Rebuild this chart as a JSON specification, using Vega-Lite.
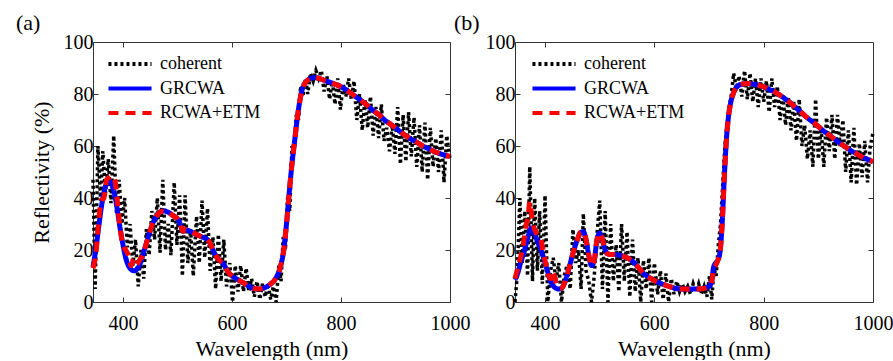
{
"$schema": "https://vega.github.io/schema/vega-lite/v6.json",
"padding": {"left": 15, "top": 11, "right": 0, "bottom": 0},
"bounds": "flush",
"spacing": 65,
"config": {
  "font": "Liberation Serif, Tinos, Times New Roman, DejaVu Serif, serif",
  "view": {"stroke": "#333", "strokeWidth": 1},
  "axis": {"domain": false, "grid": false, "ticks": true, "tickSize": -5, "tickColor": "#333", "labelFont": "Liberation Serif, Tinos, Times New Roman, DejaVu Serif, serif", "labelFontSize": 20, "labelColor": "#000", "labelFlush": false, "labelOverlap": false, "format": "d", "titleFont": "Liberation Serif, Tinos, Times New Roman, DejaVu Serif, serif", "titleFontSize": 22, "titleFontWeight": "normal", "titleColor": "#000"},
  "title": {"font": "Liberation Serif, Tinos, Times New Roman, DejaVu Serif, serif", "fontSize": 22, "fontWeight": "normal", "anchor": "start", "frame": "group", "color": "#000"},
  "legend": {"orient": "none", "title": null, "labelFont": "Liberation Serif, Tinos, Times New Roman, DejaVu Serif, serif", "labelFontSize": 18, "labelColor": "#000", "symbolType": "M-4,0H4", "symbolSize": 116, "symbolStrokeWidth": 4, "labelOffset": 21, "rowPadding": 6.5}
},
"datasets": {
"a": [
{"method":"coherent","wl":345,"refl":47},{"method":"coherent","wl":349,"refl":5},{"method":"coherent","wl":354,"refl":60},{"method":"coherent","wl":359,"refl":39},{"method":"coherent","wl":363,"refl":58},{"method":"coherent","wl":368,"refl":42},{"method":"coherent","wl":373,"refl":55},{"method":"coherent","wl":378,"refl":38},{"method":"coherent","wl":383,"refl":64},{"method":"coherent","wl":388,"refl":34},{"method":"coherent","wl":393,"refl":47},{"method":"coherent","wl":398,"refl":30},{"method":"coherent","wl":403,"refl":40},{"method":"coherent","wl":408,"refl":21},{"method":"coherent","wl":413,"refl":30},{"method":"coherent","wl":418,"refl":14},{"method":"coherent","wl":423,"refl":24},{"method":"coherent","wl":428,"refl":6},{"method":"coherent","wl":433,"refl":20},{"method":"coherent","wl":438,"refl":9},{"method":"coherent","wl":443,"refl":28},{"method":"coherent","wl":448,"refl":18},{"method":"coherent","wl":453,"refl":35},{"method":"coherent","wl":458,"refl":24},{"method":"coherent","wl":463,"refl":40},{"method":"coherent","wl":468,"refl":19},{"method":"coherent","wl":473,"refl":47},{"method":"coherent","wl":478,"refl":20},{"method":"coherent","wl":483,"refl":30},{"method":"coherent","wl":488,"refl":18},{"method":"coherent","wl":494,"refl":46},{"method":"coherent","wl":499,"refl":22},{"method":"coherent","wl":504,"refl":41},{"method":"coherent","wl":509,"refl":10},{"method":"coherent","wl":514,"refl":41},{"method":"coherent","wl":519,"refl":15},{"method":"coherent","wl":524,"refl":28},{"method":"coherent","wl":529,"refl":10},{"method":"coherent","wl":535,"refl":33},{"method":"coherent","wl":540,"refl":15},{"method":"coherent","wl":545,"refl":39},{"method":"coherent","wl":550,"refl":17},{"method":"coherent","wl":555,"refl":36},{"method":"coherent","wl":560,"refl":12},{"method":"coherent","wl":565,"refl":25},{"method":"coherent","wl":570,"refl":5},{"method":"coherent","wl":575,"refl":26},{"method":"coherent","wl":580,"refl":8},{"method":"coherent","wl":585,"refl":24},{"method":"coherent","wl":590,"refl":6},{"method":"coherent","wl":596,"refl":15},{"method":"coherent","wl":601,"refl":0},{"method":"coherent","wl":606,"refl":14},{"method":"coherent","wl":611,"refl":4},{"method":"coherent","wl":616,"refl":14},{"method":"coherent","wl":621,"refl":4},{"method":"coherent","wl":626,"refl":13},{"method":"coherent","wl":631,"refl":4},{"method":"coherent","wl":636,"refl":9},{"method":"coherent","wl":641,"refl":2},{"method":"coherent","wl":646,"refl":8},{"method":"coherent","wl":651,"refl":1},{"method":"coherent","wl":656,"refl":7},{"method":"coherent","wl":661,"refl":2},{"method":"coherent","wl":666,"refl":7},{"method":"coherent","wl":671,"refl":1},{"method":"coherent","wl":676,"refl":6},{"method":"coherent","wl":681,"refl":0},{"method":"coherent","wl":686,"refl":14},{"method":"coherent","wl":690,"refl":8},{"method":"coherent","wl":694,"refl":25},{"method":"coherent","wl":698,"refl":20},{"method":"coherent","wl":702,"refl":40},{"method":"coherent","wl":706,"refl":35},{"method":"coherent","wl":710,"refl":60},{"method":"coherent","wl":714,"refl":58},{"method":"coherent","wl":718,"refl":72},{"method":"coherent","wl":722,"refl":70},{"method":"coherent","wl":726,"refl":83},{"method":"coherent","wl":730,"refl":79},{"method":"coherent","wl":735,"refl":86},{"method":"coherent","wl":739,"refl":80},{"method":"coherent","wl":744,"refl":88},{"method":"coherent","wl":749,"refl":85},{"method":"coherent","wl":754,"refl":89},{"method":"coherent","wl":759,"refl":86},{"method":"coherent","wl":764,"refl":89},{"method":"coherent","wl":769,"refl":81},{"method":"coherent","wl":774,"refl":87},{"method":"coherent","wl":779,"refl":78},{"method":"coherent","wl":784,"refl":85},{"method":"coherent","wl":789,"refl":76},{"method":"coherent","wl":794,"refl":86},{"method":"coherent","wl":799,"refl":74},{"method":"coherent","wl":804,"refl":84},{"method":"coherent","wl":809,"refl":79},{"method":"coherent","wl":814,"refl":86},{"method":"coherent","wl":819,"refl":78},{"method":"coherent","wl":824,"refl":85},{"method":"coherent","wl":829,"refl":70},{"method":"coherent","wl":834,"refl":80},{"method":"coherent","wl":839,"refl":66},{"method":"coherent","wl":844,"refl":78},{"method":"coherent","wl":849,"refl":67},{"method":"coherent","wl":854,"refl":79},{"method":"coherent","wl":859,"refl":64},{"method":"coherent","wl":864,"refl":75},{"method":"coherent","wl":869,"refl":63},{"method":"coherent","wl":874,"refl":76},{"method":"coherent","wl":879,"refl":62},{"method":"coherent","wl":884,"refl":67},{"method":"coherent","wl":889,"refl":58},{"method":"coherent","wl":894,"refl":68},{"method":"coherent","wl":899,"refl":57},{"method":"coherent","wl":904,"refl":75},{"method":"coherent","wl":909,"refl":53},{"method":"coherent","wl":914,"refl":72},{"method":"coherent","wl":919,"refl":54},{"method":"coherent","wl":924,"refl":73},{"method":"coherent","wl":929,"refl":56},{"method":"coherent","wl":934,"refl":71},{"method":"coherent","wl":939,"refl":52},{"method":"coherent","wl":944,"refl":68},{"method":"coherent","wl":949,"refl":50},{"method":"coherent","wl":954,"refl":69},{"method":"coherent","wl":959,"refl":47},{"method":"coherent","wl":964,"refl":67},{"method":"coherent","wl":969,"refl":52},{"method":"coherent","wl":974,"refl":63},{"method":"coherent","wl":979,"refl":50},{"method":"coherent","wl":984,"refl":66},{"method":"coherent","wl":989,"refl":46},{"method":"coherent","wl":994,"refl":64},{"method":"coherent","wl":1000,"refl":55},
{"method":"GRCWA","wl":345,"refl":13.5},{"method":"GRCWA","wl":350,"refl":20},{"method":"GRCWA","wl":355,"refl":28},{"method":"GRCWA","wl":360,"refl":36},{"method":"GRCWA","wl":365,"refl":42},{"method":"GRCWA","wl":370,"refl":45.5},{"method":"GRCWA","wl":375,"refl":46.5},{"method":"GRCWA","wl":380,"refl":45},{"method":"GRCWA","wl":385,"refl":41},{"method":"GRCWA","wl":390,"refl":35},{"method":"GRCWA","wl":395,"refl":28},{"method":"GRCWA","wl":400,"refl":22},{"method":"GRCWA","wl":405,"refl":17},{"method":"GRCWA","wl":410,"refl":14},{"method":"GRCWA","wl":415,"refl":12.5},{"method":"GRCWA","wl":420,"refl":12},{"method":"GRCWA","wl":425,"refl":12.5},{"method":"GRCWA","wl":430,"refl":14},{"method":"GRCWA","wl":435,"refl":17},{"method":"GRCWA","wl":440,"refl":20.5},{"method":"GRCWA","wl":445,"refl":24},{"method":"GRCWA","wl":450,"refl":27.5},{"method":"GRCWA","wl":455,"refl":30.5},{"method":"GRCWA","wl":460,"refl":32.5},{"method":"GRCWA","wl":465,"refl":34},{"method":"GRCWA","wl":470,"refl":34.8},{"method":"GRCWA","wl":475,"refl":35},{"method":"GRCWA","wl":480,"refl":34.8},{"method":"GRCWA","wl":485,"refl":34.3},{"method":"GRCWA","wl":490,"refl":33.5},{"method":"GRCWA","wl":495,"refl":32.8},{"method":"GRCWA","wl":500,"refl":32},{"method":"GRCWA","wl":505,"refl":30},{"method":"GRCWA","wl":510,"refl":27.2},{"method":"GRCWA","wl":515,"refl":27.8},{"method":"GRCWA","wl":520,"refl":27.5},{"method":"GRCWA","wl":525,"refl":27},{"method":"GRCWA","wl":530,"refl":26.5},{"method":"GRCWA","wl":535,"refl":26},{"method":"GRCWA","wl":540,"refl":25.5},{"method":"GRCWA","wl":545,"refl":25},{"method":"GRCWA","wl":550,"refl":24.6},{"method":"GRCWA","wl":555,"refl":24},{"method":"GRCWA","wl":560,"refl":22.5},{"method":"GRCWA","wl":565,"refl":20},{"method":"GRCWA","wl":570,"refl":18},{"method":"GRCWA","wl":575,"refl":16.5},{"method":"GRCWA","wl":580,"refl":15.5},{"method":"GRCWA","wl":585,"refl":14.5},{"method":"GRCWA","wl":590,"refl":12.5},{"method":"GRCWA","wl":595,"refl":11},{"method":"GRCWA","wl":600,"refl":10},{"method":"GRCWA","wl":610,"refl":8.7},{"method":"GRCWA","wl":620,"refl":7.5},{"method":"GRCWA","wl":630,"refl":6.2},{"method":"GRCWA","wl":640,"refl":5.2},{"method":"GRCWA","wl":650,"refl":5},{"method":"GRCWA","wl":660,"refl":5.5},{"method":"GRCWA","wl":670,"refl":6.8},{"method":"GRCWA","wl":680,"refl":9},{"method":"GRCWA","wl":690,"refl":14.5},{"method":"GRCWA","wl":695,"refl":20},{"method":"GRCWA","wl":700,"refl":30},{"method":"GRCWA","wl":705,"refl":42},{"method":"GRCWA","wl":710,"refl":53},{"method":"GRCWA","wl":715,"refl":62},{"method":"GRCWA","wl":720,"refl":71},{"method":"GRCWA","wl":725,"refl":78},{"method":"GRCWA","wl":730,"refl":82.5},{"method":"GRCWA","wl":735,"refl":84.5},{"method":"GRCWA","wl":740,"refl":85.5},{"method":"GRCWA","wl":750,"refl":86.3},{"method":"GRCWA","wl":760,"refl":86},{"method":"GRCWA","wl":770,"refl":85.2},{"method":"GRCWA","wl":780,"refl":84.5},{"method":"GRCWA","wl":790,"refl":83.7},{"method":"GRCWA","wl":800,"refl":82.8},{"method":"GRCWA","wl":810,"refl":81.5},{"method":"GRCWA","wl":820,"refl":80},{"method":"GRCWA","wl":830,"refl":78.5},{"method":"GRCWA","wl":840,"refl":77},{"method":"GRCWA","wl":850,"refl":75.3},{"method":"GRCWA","wl":860,"refl":73.5},{"method":"GRCWA","wl":870,"refl":72},{"method":"GRCWA","wl":880,"refl":70},{"method":"GRCWA","wl":890,"refl":68.5},{"method":"GRCWA","wl":900,"refl":67},{"method":"GRCWA","wl":910,"refl":65.3},{"method":"GRCWA","wl":920,"refl":63.8},{"method":"GRCWA","wl":930,"refl":62.5},{"method":"GRCWA","wl":940,"refl":61.3},{"method":"GRCWA","wl":950,"refl":60},{"method":"GRCWA","wl":960,"refl":59},{"method":"GRCWA","wl":970,"refl":58},{"method":"GRCWA","wl":980,"refl":57.2},{"method":"GRCWA","wl":990,"refl":56.5},{"method":"GRCWA","wl":1000,"refl":56},
{"method":"RCWA+ETM","wl":345,"refl":13},{"method":"RCWA+ETM","wl":350,"refl":18},{"method":"RCWA+ETM","wl":355,"refl":30},{"method":"RCWA+ETM","wl":360,"refl":39},{"method":"RCWA+ETM","wl":365,"refl":40},{"method":"RCWA+ETM","wl":370,"refl":47},{"method":"RCWA+ETM","wl":375,"refl":48},{"method":"RCWA+ETM","wl":380,"refl":48.5},{"method":"RCWA+ETM","wl":385,"refl":47},{"method":"RCWA+ETM","wl":390,"refl":38},{"method":"RCWA+ETM","wl":395,"refl":28},{"method":"RCWA+ETM","wl":400,"refl":22},{"method":"RCWA+ETM","wl":405,"refl":20},{"method":"RCWA+ETM","wl":410,"refl":18},{"method":"RCWA+ETM","wl":415,"refl":14},{"method":"RCWA+ETM","wl":420,"refl":16.5},{"method":"RCWA+ETM","wl":425,"refl":14.5},{"method":"RCWA+ETM","wl":430,"refl":16},{"method":"RCWA+ETM","wl":435,"refl":17.5},{"method":"RCWA+ETM","wl":440,"refl":20.5},{"method":"RCWA+ETM","wl":445,"refl":24},{"method":"RCWA+ETM","wl":450,"refl":27.5},{"method":"RCWA+ETM","wl":455,"refl":30.5},{"method":"RCWA+ETM","wl":460,"refl":32.5},{"method":"RCWA+ETM","wl":465,"refl":34},{"method":"RCWA+ETM","wl":470,"refl":34.8},{"method":"RCWA+ETM","wl":475,"refl":35},{"method":"RCWA+ETM","wl":480,"refl":34.8},{"method":"RCWA+ETM","wl":485,"refl":34.3},{"method":"RCWA+ETM","wl":490,"refl":33.5},{"method":"RCWA+ETM","wl":495,"refl":32.8},{"method":"RCWA+ETM","wl":500,"refl":32},{"method":"RCWA+ETM","wl":505,"refl":30},{"method":"RCWA+ETM","wl":510,"refl":27.2},{"method":"RCWA+ETM","wl":515,"refl":28},{"method":"RCWA+ETM","wl":520,"refl":27.5},{"method":"RCWA+ETM","wl":525,"refl":27},{"method":"RCWA+ETM","wl":530,"refl":26.5},{"method":"RCWA+ETM","wl":535,"refl":26},{"method":"RCWA+ETM","wl":540,"refl":25.5},{"method":"RCWA+ETM","wl":545,"refl":25},{"method":"RCWA+ETM","wl":550,"refl":24.6},{"method":"RCWA+ETM","wl":555,"refl":24},{"method":"RCWA+ETM","wl":560,"refl":22.5},{"method":"RCWA+ETM","wl":565,"refl":20},{"method":"RCWA+ETM","wl":570,"refl":18},{"method":"RCWA+ETM","wl":575,"refl":16.5},{"method":"RCWA+ETM","wl":580,"refl":15.5},{"method":"RCWA+ETM","wl":585,"refl":14.5},{"method":"RCWA+ETM","wl":590,"refl":12.5},{"method":"RCWA+ETM","wl":595,"refl":11},{"method":"RCWA+ETM","wl":600,"refl":10},{"method":"RCWA+ETM","wl":610,"refl":8.7},{"method":"RCWA+ETM","wl":620,"refl":7.5},{"method":"RCWA+ETM","wl":630,"refl":6.2},{"method":"RCWA+ETM","wl":640,"refl":5.2},{"method":"RCWA+ETM","wl":650,"refl":5},{"method":"RCWA+ETM","wl":660,"refl":5.5},{"method":"RCWA+ETM","wl":670,"refl":6.8},{"method":"RCWA+ETM","wl":680,"refl":9},{"method":"RCWA+ETM","wl":690,"refl":14.5},{"method":"RCWA+ETM","wl":695,"refl":20},{"method":"RCWA+ETM","wl":700,"refl":30},{"method":"RCWA+ETM","wl":705,"refl":42},{"method":"RCWA+ETM","wl":710,"refl":53},{"method":"RCWA+ETM","wl":715,"refl":62},{"method":"RCWA+ETM","wl":720,"refl":71},{"method":"RCWA+ETM","wl":725,"refl":78},{"method":"RCWA+ETM","wl":730,"refl":82.5},{"method":"RCWA+ETM","wl":735,"refl":84.5},{"method":"RCWA+ETM","wl":740,"refl":85.5},{"method":"RCWA+ETM","wl":750,"refl":86.3},{"method":"RCWA+ETM","wl":760,"refl":86},{"method":"RCWA+ETM","wl":770,"refl":85.2},{"method":"RCWA+ETM","wl":780,"refl":84.5},{"method":"RCWA+ETM","wl":790,"refl":83.7},{"method":"RCWA+ETM","wl":800,"refl":82.8},{"method":"RCWA+ETM","wl":810,"refl":81.5},{"method":"RCWA+ETM","wl":820,"refl":80},{"method":"RCWA+ETM","wl":830,"refl":78.5},{"method":"RCWA+ETM","wl":840,"refl":77},{"method":"RCWA+ETM","wl":850,"refl":75.3},{"method":"RCWA+ETM","wl":860,"refl":73.5},{"method":"RCWA+ETM","wl":870,"refl":72},{"method":"RCWA+ETM","wl":880,"refl":70},{"method":"RCWA+ETM","wl":890,"refl":68.5},{"method":"RCWA+ETM","wl":900,"refl":67},{"method":"RCWA+ETM","wl":910,"refl":65.3},{"method":"RCWA+ETM","wl":920,"refl":63.8},{"method":"RCWA+ETM","wl":930,"refl":62.5},{"method":"RCWA+ETM","wl":940,"refl":61.3},{"method":"RCWA+ETM","wl":950,"refl":60},{"method":"RCWA+ETM","wl":960,"refl":59},{"method":"RCWA+ETM","wl":970,"refl":58},{"method":"RCWA+ETM","wl":980,"refl":57.2},{"method":"RCWA+ETM","wl":990,"refl":56.5},{"method":"RCWA+ETM","wl":1000,"refl":56}
],
"b": [
{"method":"coherent","wl":345,"refl":0},{"method":"coherent","wl":349,"refl":10},{"method":"coherent","wl":354,"refl":40},{"method":"coherent","wl":358,"refl":15},{"method":"coherent","wl":363,"refl":35},{"method":"coherent","wl":368,"refl":10},{"method":"coherent","wl":372,"refl":52},{"method":"coherent","wl":377,"refl":8},{"method":"coherent","wl":381,"refl":40},{"method":"coherent","wl":386,"refl":12},{"method":"coherent","wl":390,"refl":35},{"method":"coherent","wl":395,"refl":7},{"method":"coherent","wl":400,"refl":41},{"method":"coherent","wl":405,"refl":0},{"method":"coherent","wl":410,"refl":12},{"method":"coherent","wl":415,"refl":17},{"method":"coherent","wl":420,"refl":8},{"method":"coherent","wl":425,"refl":15},{"method":"coherent","wl":430,"refl":0},{"method":"coherent","wl":435,"refl":10},{"method":"coherent","wl":440,"refl":14},{"method":"coherent","wl":446,"refl":5},{"method":"coherent","wl":451,"refl":28},{"method":"coherent","wl":456,"refl":15},{"method":"coherent","wl":461,"refl":20},{"method":"coherent","wl":466,"refl":5},{"method":"coherent","wl":470,"refl":34},{"method":"coherent","wl":475,"refl":12},{"method":"coherent","wl":480,"refl":8},{"method":"coherent","wl":485,"refl":0},{"method":"coherent","wl":490,"refl":10},{"method":"coherent","wl":495,"refl":26},{"method":"coherent","wl":500,"refl":39},{"method":"coherent","wl":505,"refl":5},{"method":"coherent","wl":510,"refl":35},{"method":"coherent","wl":515,"refl":0},{"method":"coherent","wl":520,"refl":30},{"method":"coherent","wl":525,"refl":8},{"method":"coherent","wl":530,"refl":22},{"method":"coherent","wl":535,"refl":4},{"method":"coherent","wl":540,"refl":30},{"method":"coherent","wl":545,"refl":8},{"method":"coherent","wl":550,"refl":27},{"method":"coherent","wl":555,"refl":2},{"method":"coherent","wl":560,"refl":24},{"method":"coherent","wl":565,"refl":4},{"method":"coherent","wl":570,"refl":17},{"method":"coherent","wl":575,"refl":0},{"method":"coherent","wl":580,"refl":16},{"method":"coherent","wl":585,"refl":5},{"method":"coherent","wl":590,"refl":17},{"method":"coherent","wl":595,"refl":0},{"method":"coherent","wl":600,"refl":15},{"method":"coherent","wl":606,"refl":3},{"method":"coherent","wl":611,"refl":12},{"method":"coherent","wl":616,"refl":1},{"method":"coherent","wl":621,"refl":11},{"method":"coherent","wl":626,"refl":0},{"method":"coherent","wl":631,"refl":9},{"method":"coherent","wl":636,"refl":3},{"method":"coherent","wl":641,"refl":8},{"method":"coherent","wl":646,"refl":4},{"method":"coherent","wl":651,"refl":7},{"method":"coherent","wl":656,"refl":4},{"method":"coherent","wl":661,"refl":6},{"method":"coherent","wl":666,"refl":3},{"method":"coherent","wl":671,"refl":7},{"method":"coherent","wl":676,"refl":4},{"method":"coherent","wl":681,"refl":7},{"method":"coherent","wl":686,"refl":3},{"method":"coherent","wl":691,"refl":6},{"method":"coherent","wl":696,"refl":2},{"method":"coherent","wl":701,"refl":10},{"method":"coherent","wl":705,"refl":1},{"method":"coherent","wl":709,"refl":13},{"method":"coherent","wl":713,"refl":10},{"method":"coherent","wl":717,"refl":22},{"method":"coherent","wl":721,"refl":30},{"method":"coherent","wl":725,"refl":45},{"method":"coherent","wl":729,"refl":60},{"method":"coherent","wl":733,"refl":68},{"method":"coherent","wl":737,"refl":75},{"method":"coherent","wl":741,"refl":80},{"method":"coherent","wl":745,"refl":88},{"method":"coherent","wl":750,"refl":82},{"method":"coherent","wl":755,"refl":87},{"method":"coherent","wl":760,"refl":79},{"method":"coherent","wl":765,"refl":89},{"method":"coherent","wl":770,"refl":78},{"method":"coherent","wl":775,"refl":88},{"method":"coherent","wl":780,"refl":77},{"method":"coherent","wl":785,"refl":86},{"method":"coherent","wl":790,"refl":75},{"method":"coherent","wl":795,"refl":86},{"method":"coherent","wl":800,"refl":77},{"method":"coherent","wl":805,"refl":85},{"method":"coherent","wl":810,"refl":73},{"method":"coherent","wl":815,"refl":86},{"method":"coherent","wl":820,"refl":75},{"method":"coherent","wl":825,"refl":83},{"method":"coherent","wl":830,"refl":70},{"method":"coherent","wl":835,"refl":80},{"method":"coherent","wl":840,"refl":68},{"method":"coherent","wl":845,"refl":79},{"method":"coherent","wl":850,"refl":66},{"method":"coherent","wl":855,"refl":77},{"method":"coherent","wl":860,"refl":62},{"method":"coherent","wl":865,"refl":78},{"method":"coherent","wl":870,"refl":60},{"method":"coherent","wl":875,"refl":68},{"method":"coherent","wl":880,"refl":55},{"method":"coherent","wl":885,"refl":66},{"method":"coherent","wl":890,"refl":52},{"method":"coherent","wl":895,"refl":78},{"method":"coherent","wl":900,"refl":55},{"method":"coherent","wl":905,"refl":67},{"method":"coherent","wl":910,"refl":52},{"method":"coherent","wl":915,"refl":71},{"method":"coherent","wl":920,"refl":58},{"method":"coherent","wl":925,"refl":72},{"method":"coherent","wl":930,"refl":55},{"method":"coherent","wl":935,"refl":72},{"method":"coherent","wl":940,"refl":60},{"method":"coherent","wl":945,"refl":70},{"method":"coherent","wl":950,"refl":50},{"method":"coherent","wl":955,"refl":66},{"method":"coherent","wl":960,"refl":46},{"method":"coherent","wl":965,"refl":67},{"method":"coherent","wl":970,"refl":45},{"method":"coherent","wl":975,"refl":61},{"method":"coherent","wl":980,"refl":48},{"method":"coherent","wl":985,"refl":62},{"method":"coherent","wl":990,"refl":46},{"method":"coherent","wl":995,"refl":60},{"method":"coherent","wl":1000,"refl":65},
{"method":"GRCWA","wl":345,"refl":8.5},{"method":"GRCWA","wl":350,"refl":11},{"method":"GRCWA","wl":355,"refl":15},{"method":"GRCWA","wl":360,"refl":18},{"method":"GRCWA","wl":365,"refl":22},{"method":"GRCWA","wl":370,"refl":26},{"method":"GRCWA","wl":375,"refl":28.5},{"method":"GRCWA","wl":380,"refl":27},{"method":"GRCWA","wl":385,"refl":24},{"method":"GRCWA","wl":390,"refl":21.5},{"method":"GRCWA","wl":395,"refl":18.5},{"method":"GRCWA","wl":400,"refl":15},{"method":"GRCWA","wl":405,"refl":11.5},{"method":"GRCWA","wl":410,"refl":8},{"method":"GRCWA","wl":415,"refl":6.2},{"method":"GRCWA","wl":420,"refl":5.3},{"method":"GRCWA","wl":425,"refl":5},{"method":"GRCWA","wl":430,"refl":5.3},{"method":"GRCWA","wl":435,"refl":7},{"method":"GRCWA","wl":440,"refl":10},{"method":"GRCWA","wl":445,"refl":14},{"method":"GRCWA","wl":450,"refl":18},{"method":"GRCWA","wl":455,"refl":21.5},{"method":"GRCWA","wl":460,"refl":24.5},{"method":"GRCWA","wl":465,"refl":26.8},{"method":"GRCWA","wl":470,"refl":27},{"method":"GRCWA","wl":475,"refl":24},{"method":"GRCWA","wl":480,"refl":18},{"method":"GRCWA","wl":485,"refl":14},{"method":"GRCWA","wl":490,"refl":16},{"method":"GRCWA","wl":495,"refl":24},{"method":"GRCWA","wl":500,"refl":26.5},{"method":"GRCWA","wl":505,"refl":24},{"method":"GRCWA","wl":510,"refl":20},{"method":"GRCWA","wl":515,"refl":18.5},{"method":"GRCWA","wl":520,"refl":18.3},{"method":"GRCWA","wl":530,"refl":18.2},{"method":"GRCWA","wl":540,"refl":17.8},{"method":"GRCWA","wl":550,"refl":17},{"method":"GRCWA","wl":560,"refl":15.7},{"method":"GRCWA","wl":570,"refl":13.5},{"method":"GRCWA","wl":580,"refl":11},{"method":"GRCWA","wl":590,"refl":9.5},{"method":"GRCWA","wl":600,"refl":8.3},{"method":"GRCWA","wl":610,"refl":7.3},{"method":"GRCWA","wl":620,"refl":6.5},{"method":"GRCWA","wl":630,"refl":5.8},{"method":"GRCWA","wl":640,"refl":5.2},{"method":"GRCWA","wl":650,"refl":5},{"method":"GRCWA","wl":660,"refl":5},{"method":"GRCWA","wl":670,"refl":5},{"method":"GRCWA","wl":680,"refl":5},{"method":"GRCWA","wl":690,"refl":5.2},{"method":"GRCWA","wl":700,"refl":6},{"method":"GRCWA","wl":705,"refl":8},{"method":"GRCWA","wl":708,"refl":13},{"method":"GRCWA","wl":712,"refl":15},{"method":"GRCWA","wl":716,"refl":16},{"method":"GRCWA","wl":720,"refl":19},{"method":"GRCWA","wl":724,"refl":30},{"method":"GRCWA","wl":728,"refl":48},{"method":"GRCWA","wl":732,"refl":63},{"method":"GRCWA","wl":736,"refl":72},{"method":"GRCWA","wl":740,"refl":77},{"method":"GRCWA","wl":745,"refl":80.5},{"method":"GRCWA","wl":750,"refl":82.5},{"method":"GRCWA","wl":760,"refl":83.8},{"method":"GRCWA","wl":770,"refl":84},{"method":"GRCWA","wl":780,"refl":83.8},{"method":"GRCWA","wl":790,"refl":83.4},{"method":"GRCWA","wl":800,"refl":82.8},{"method":"GRCWA","wl":810,"refl":81.8},{"method":"GRCWA","wl":820,"refl":80.8},{"method":"GRCWA","wl":830,"refl":79.5},{"method":"GRCWA","wl":840,"refl":78},{"method":"GRCWA","wl":850,"refl":76.4},{"method":"GRCWA","wl":860,"refl":74.5},{"method":"GRCWA","wl":870,"refl":72.7},{"method":"GRCWA","wl":880,"refl":70.8},{"method":"GRCWA","wl":890,"refl":69.2},{"method":"GRCWA","wl":900,"refl":67.5},{"method":"GRCWA","wl":910,"refl":65.7},{"method":"GRCWA","wl":920,"refl":64.2},{"method":"GRCWA","wl":930,"refl":62.6},{"method":"GRCWA","wl":940,"refl":61},{"method":"GRCWA","wl":950,"refl":59.6},{"method":"GRCWA","wl":960,"refl":58.2},{"method":"GRCWA","wl":970,"refl":57},{"method":"GRCWA","wl":980,"refl":55.8},{"method":"GRCWA","wl":990,"refl":54.8},{"method":"GRCWA","wl":1000,"refl":54},
{"method":"RCWA+ETM","wl":345,"refl":9},{"method":"RCWA+ETM","wl":350,"refl":13},{"method":"RCWA+ETM","wl":355,"refl":17},{"method":"RCWA+ETM","wl":360,"refl":22},{"method":"RCWA+ETM","wl":365,"refl":29},{"method":"RCWA+ETM","wl":369,"refl":33},{"method":"RCWA+ETM","wl":372,"refl":38.5},{"method":"RCWA+ETM","wl":375,"refl":34},{"method":"RCWA+ETM","wl":378,"refl":30},{"method":"RCWA+ETM","wl":383,"refl":27},{"method":"RCWA+ETM","wl":388,"refl":25.5},{"method":"RCWA+ETM","wl":392,"refl":24.5},{"method":"RCWA+ETM","wl":396,"refl":20},{"method":"RCWA+ETM","wl":400,"refl":16},{"method":"RCWA+ETM","wl":405,"refl":11},{"method":"RCWA+ETM","wl":410,"refl":9},{"method":"RCWA+ETM","wl":413,"refl":12},{"method":"RCWA+ETM","wl":417,"refl":10},{"method":"RCWA+ETM","wl":421,"refl":7},{"method":"RCWA+ETM","wl":425,"refl":5.3},{"method":"RCWA+ETM","wl":430,"refl":5.3},{"method":"RCWA+ETM","wl":435,"refl":7},{"method":"RCWA+ETM","wl":440,"refl":10},{"method":"RCWA+ETM","wl":445,"refl":14},{"method":"RCWA+ETM","wl":450,"refl":18},{"method":"RCWA+ETM","wl":455,"refl":21.5},{"method":"RCWA+ETM","wl":460,"refl":24.5},{"method":"RCWA+ETM","wl":465,"refl":26.8},{"method":"RCWA+ETM","wl":470,"refl":27},{"method":"RCWA+ETM","wl":475,"refl":24},{"method":"RCWA+ETM","wl":480,"refl":18},{"method":"RCWA+ETM","wl":485,"refl":14},{"method":"RCWA+ETM","wl":490,"refl":16},{"method":"RCWA+ETM","wl":495,"refl":24},{"method":"RCWA+ETM","wl":500,"refl":26.5},{"method":"RCWA+ETM","wl":505,"refl":24},{"method":"RCWA+ETM","wl":510,"refl":20},{"method":"RCWA+ETM","wl":515,"refl":18.5},{"method":"RCWA+ETM","wl":520,"refl":18.3},{"method":"RCWA+ETM","wl":530,"refl":18.2},{"method":"RCWA+ETM","wl":540,"refl":17.8},{"method":"RCWA+ETM","wl":550,"refl":17},{"method":"RCWA+ETM","wl":560,"refl":15.7},{"method":"RCWA+ETM","wl":570,"refl":13.5},{"method":"RCWA+ETM","wl":580,"refl":11},{"method":"RCWA+ETM","wl":590,"refl":9.5},{"method":"RCWA+ETM","wl":600,"refl":8.3},{"method":"RCWA+ETM","wl":610,"refl":7.3},{"method":"RCWA+ETM","wl":620,"refl":6.5},{"method":"RCWA+ETM","wl":630,"refl":5.8},{"method":"RCWA+ETM","wl":640,"refl":5.2},{"method":"RCWA+ETM","wl":650,"refl":5},{"method":"RCWA+ETM","wl":660,"refl":5},{"method":"RCWA+ETM","wl":670,"refl":5},{"method":"RCWA+ETM","wl":680,"refl":5},{"method":"RCWA+ETM","wl":690,"refl":5.2},{"method":"RCWA+ETM","wl":700,"refl":6},{"method":"RCWA+ETM","wl":705,"refl":8},{"method":"RCWA+ETM","wl":708,"refl":12},{"method":"RCWA+ETM","wl":712,"refl":14},{"method":"RCWA+ETM","wl":716,"refl":16},{"method":"RCWA+ETM","wl":720,"refl":19},{"method":"RCWA+ETM","wl":724,"refl":30},{"method":"RCWA+ETM","wl":728,"refl":48},{"method":"RCWA+ETM","wl":732,"refl":63},{"method":"RCWA+ETM","wl":736,"refl":72},{"method":"RCWA+ETM","wl":740,"refl":77},{"method":"RCWA+ETM","wl":745,"refl":80.5},{"method":"RCWA+ETM","wl":750,"refl":82.5},{"method":"RCWA+ETM","wl":760,"refl":83.8},{"method":"RCWA+ETM","wl":770,"refl":84},{"method":"RCWA+ETM","wl":780,"refl":83.8},{"method":"RCWA+ETM","wl":790,"refl":83.4},{"method":"RCWA+ETM","wl":800,"refl":82.8},{"method":"RCWA+ETM","wl":810,"refl":81.8},{"method":"RCWA+ETM","wl":820,"refl":80.8},{"method":"RCWA+ETM","wl":830,"refl":79.5},{"method":"RCWA+ETM","wl":840,"refl":78},{"method":"RCWA+ETM","wl":850,"refl":76.4},{"method":"RCWA+ETM","wl":860,"refl":74.5},{"method":"RCWA+ETM","wl":870,"refl":72.7},{"method":"RCWA+ETM","wl":880,"refl":70.8},{"method":"RCWA+ETM","wl":890,"refl":69.2},{"method":"RCWA+ETM","wl":900,"refl":67.5},{"method":"RCWA+ETM","wl":910,"refl":65.7},{"method":"RCWA+ETM","wl":920,"refl":64.2},{"method":"RCWA+ETM","wl":930,"refl":62.6},{"method":"RCWA+ETM","wl":940,"refl":61},{"method":"RCWA+ETM","wl":950,"refl":59.6},{"method":"RCWA+ETM","wl":960,"refl":58.2},{"method":"RCWA+ETM","wl":970,"refl":57},{"method":"RCWA+ETM","wl":980,"refl":55.8},{"method":"RCWA+ETM","wl":990,"refl":54.8},{"method":"RCWA+ETM","wl":1000,"refl":54}
]
},
"resolve": {"scale": {"color": "independent", "strokeDash": "independent"}, "legend": {"color": "independent", "strokeDash": "independent"}},
"hconcat": [
{
  "width": 357, "height": 260,
  "title": {"text": "(a)", "dx": -77, "offset": -3},
  "data": {"name": "a"},
  "resolve": {"axis": {"x": "independent", "y": "independent"}},
  "layer": [
    {"transform": [{"filter": "datum.method === 'coherent'"}],
     "mark": {"type": "line", "strokeWidth": 3.5},
     "encoding": {
       "x": {"field": "wl", "type": "quantitative", "scale": {"domain": [345, 1000], "nice": false, "zero": false}, "axis": {"orient": "bottom", "values": [400, 600, 800, 1000], "title": "Wavelength (nm)", "labelPadding": 16, "titlePadding": 5}},
       "y": {"field": "refl", "type": "quantitative", "scale": {"domain": [0, 100], "nice": false}, "axis": {"orient": "left", "values": [0, 20, 40, 60, 80, 100], "title": "Reflectivity (%)", "labelPadding": 5, "titlePadding": 10}},
       "color": {"field": "method", "type": "nominal", "scale": {"domain": ["coherent", "GRCWA", "RCWA+ETM"], "range": ["#000000", "#0000ff", "#ff0000"]}, "legend": {"legendX": 28, "legendY": 13, "title": null}},
       "strokeDash": {"field": "method", "type": "nominal", "scale": {"domain": ["coherent", "GRCWA", "RCWA+ETM"], "range": [[3, 3], [1, 0], [10, 7]]}, "legend": {"legendX": 28, "legendY": 13, "title": null}}
     }},
    {"transform": [{"filter": "datum.method === 'GRCWA'"}],
     "mark": {"type": "line", "strokeWidth": 5, "interpolate": "monotone"},
     "encoding": {
       "x": {"field": "wl", "type": "quantitative", "axis": {"orient": "top", "values": [400, 600, 800], "labels": false, "title": null}},
       "y": {"field": "refl", "type": "quantitative", "axis": {"orient": "right", "values": [20, 40, 60, 80], "labels": false, "title": null}},
       "color": {"field": "method", "type": "nominal"},
       "strokeDash": {"field": "method", "type": "nominal"}
     }},
    {"transform": [{"filter": "datum.method === 'RCWA+ETM'"}],
     "mark": {"type": "line", "strokeWidth": 5, "interpolate": "monotone"},
     "encoding": {
       "x": {"field": "wl", "type": "quantitative", "axis": null},
       "y": {"field": "refl", "type": "quantitative", "axis": null},
       "color": {"field": "method", "type": "nominal"},
       "strokeDash": {"field": "method", "type": "nominal"}
     }}
  ]
},
{
  "width": 358, "height": 260,
  "title": {"text": "(b)", "dx": -61, "offset": -3},
  "data": {"name": "b"},
  "resolve": {"axis": {"x": "independent", "y": "independent"}},
  "layer": [
    {"transform": [{"filter": "datum.method === 'coherent'"}],
     "mark": {"type": "line", "strokeWidth": 3.5},
     "encoding": {
       "x": {"field": "wl", "type": "quantitative", "scale": {"domain": [345, 1000], "nice": false, "zero": false}, "axis": {"orient": "bottom", "values": [400, 600, 800, 1000], "title": "Wavelength (nm)", "labelPadding": 16, "titlePadding": 5}},
       "y": {"field": "refl", "type": "quantitative", "scale": {"domain": [0, 100], "nice": false}, "axis": {"orient": "left", "values": [0, 20, 40, 60, 80, 100], "title": null, "labelPadding": 5}},
       "color": {"field": "method", "type": "nominal", "scale": {"domain": ["coherent", "GRCWA", "RCWA+ETM"], "range": ["#000000", "#0000ff", "#ff0000"]}, "legend": {"legendX": 30, "legendY": 13, "title": null}},
       "strokeDash": {"field": "method", "type": "nominal", "scale": {"domain": ["coherent", "GRCWA", "RCWA+ETM"], "range": [[3, 3], [1, 0], [10, 7]]}, "legend": {"legendX": 30, "legendY": 13, "title": null}}
     }},
    {"transform": [{"filter": "datum.method === 'GRCWA'"}],
     "mark": {"type": "line", "strokeWidth": 5, "interpolate": "monotone"},
     "encoding": {
       "x": {"field": "wl", "type": "quantitative", "axis": {"orient": "top", "values": [400, 600, 800], "labels": false, "title": null}},
       "y": {"field": "refl", "type": "quantitative", "axis": {"orient": "right", "values": [20, 40, 60, 80], "labels": false, "title": null}},
       "color": {"field": "method", "type": "nominal"},
       "strokeDash": {"field": "method", "type": "nominal"}
     }},
    {"transform": [{"filter": "datum.method === 'RCWA+ETM'"}],
     "mark": {"type": "line", "strokeWidth": 5, "interpolate": "monotone"},
     "encoding": {
       "x": {"field": "wl", "type": "quantitative", "axis": null},
       "y": {"field": "refl", "type": "quantitative", "axis": null},
       "color": {"field": "method", "type": "nominal"},
       "strokeDash": {"field": "method", "type": "nominal"}
     }}
  ]
}
]
}
